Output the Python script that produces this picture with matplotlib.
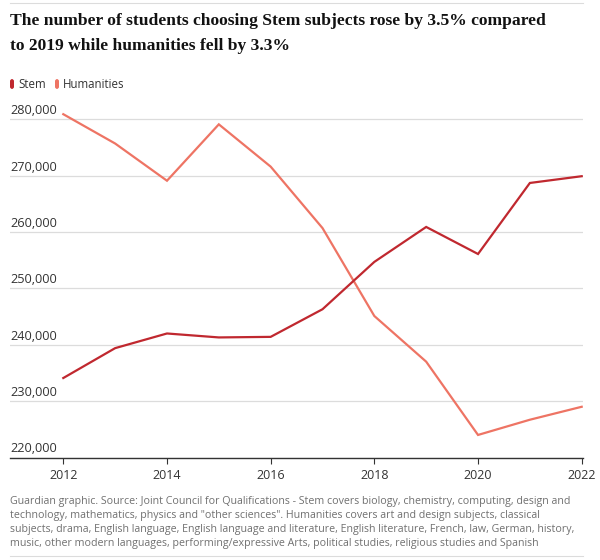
import matplotlib
matplotlib.use("Agg")
import matplotlib.pyplot as plt
import matplotlib.transforms as mtransforms
from matplotlib.patches import FancyBboxPatch
from matplotlib.lines import Line2D

years = [2012, 2013, 2014, 2015, 2016, 2017, 2018, 2019, 2020, 2021, 2022]
stem = [234100, 239400, 242000, 241300, 241400, 246300, 254700, 260900, 256100, 268700, 269900]
humanities = [280900, 275700, 269100, 279100, 271600, 260700, 245100, 237000, 224000, 226700, 229000]
series_names = ["Stem", "Humanities"]
y_ticks = [220000, 230000, 240000, 250000, 260000, 270000, 280000]
x_ticks = [2012, 2014, 2016, 2018, 2020, 2022]

title = ("The number of students choosing Stem subjects rose by 3.5% compared\n"
         "to 2019 while humanities fell by 3.3%")
footer = ("Guardian graphic. Source: Joint Council for Qualifications - Stem covers biology, chemistry, computing, design and\n"
          "technology, mathematics, physics and \"other sciences\". Humanities covers art and design subjects, classical\n"
          "subjects, drama, English language, English language and literature, English literature, French, law, German, history,\n"
          "music, other modern languages, performing/expressive Arts, political studies, religious studies and Spanish")

stem_color = "#c0282f"
hum_color = "#ee7464"
text_color = "#333333"

W, H = 600, 560
fig = plt.figure(figsize=(W / 100, H / 100), dpi=100)
fig.patch.set_facecolor("white")

def fx(px):
    return px / W

def fy(py):
    return 1 - py / H

# axes geometry in pixels
ax_left, ax_right = 10, 583
ax_top, ax_bottom = 108.0, 457.5
ax = fig.add_axes([fx(ax_left), fy(ax_bottom), fx(ax_right - ax_left), (ax_bottom - ax_top) / H])

px_per_year = (581.7 - 63.3) / 10
ax.set_xlim(2012 - (63.3 - ax_left) / px_per_year, 2022 + (ax_right - 581.7) / px_per_year)
ax.set_ylim(220000, 282000)

for s in ["top", "right", "left"]:
    ax.spines[s].set_visible(False)
ax.spines["bottom"].set_color("#333333")
ax.spines["bottom"].set_linewidth(1.0)

ax.set_yticks(y_ticks)
ax.yaxis.grid(True, color="#dcdcdc", linewidth=0.9)
ax.tick_params(axis="y", length=0, labelleft=False)
ax.set_axisbelow(True)

ax.set_xticks(x_ticks)
ax.set_xticklabels([str(x) for x in x_ticks])
ax.tick_params(axis="x", length=4, width=0.8, color="#333333", labelsize=9,
               labelcolor=text_color, pad=4)
for lab in ax.get_xticklabels():
    lab.set_family("Open Sans")

trans = mtransforms.blended_transform_factory(ax.transAxes, ax.transData)
trans = mtransforms.offset_copy(trans, fig=fig, x=0, y=1.5, units="points")
for v in y_ticks:
    ax.text(0, v, f"{v:,}", transform=trans, ha="left", va="bottom",
            fontsize=9.2, color=text_color, family="Open Sans")

ax.plot(years, humanities, color=hum_color, linewidth=1.6, solid_joinstyle="miter", zorder=3)
ax.plot(years, stem, color=stem_color, linewidth=1.6, solid_joinstyle="miter", zorder=4)

# top rule
fig.add_artist(Line2D([fx(10), fx(583)], [fy(3), fy(3)], color="#dcdcdc", linewidth=0.8))

# title
fig.text(fx(10), fy(13), title, ha="left", va="top", fontsize=12.6, fontweight="bold",
         family="Liberation Serif", color="#121212", linespacing=1.75)

# legend
leg_y = 84
for i, (name, col, x0) in enumerate(zip(series_names, [stem_color, hum_color], [10, 55])):
    box = FancyBboxPatch((fx(x0), fy(leg_y + 5)), fx(4), 10 / H,
                         boxstyle="round,pad=0,rounding_size=0.004",
                         transform=fig.transFigure, facecolor=col, edgecolor="none")
    fig.add_artist(box)
    fig.text(fx(x0 + 8), fy(leg_y), name, ha="left", va="center", fontsize=8.3,
             color=text_color, family="Open Sans")

# footer
fig.text(fx(10), fy(496), footer, ha="left", va="top", fontsize=7.7,
         color="#707070", family="Open Sans", linespacing=1.36)
fig.add_artist(Line2D([fx(10), fx(583)], [fy(556), fy(556)], color="#dcdcdc", linewidth=0.8))

fig.savefig("out.png", dpi=100, facecolor="white")
